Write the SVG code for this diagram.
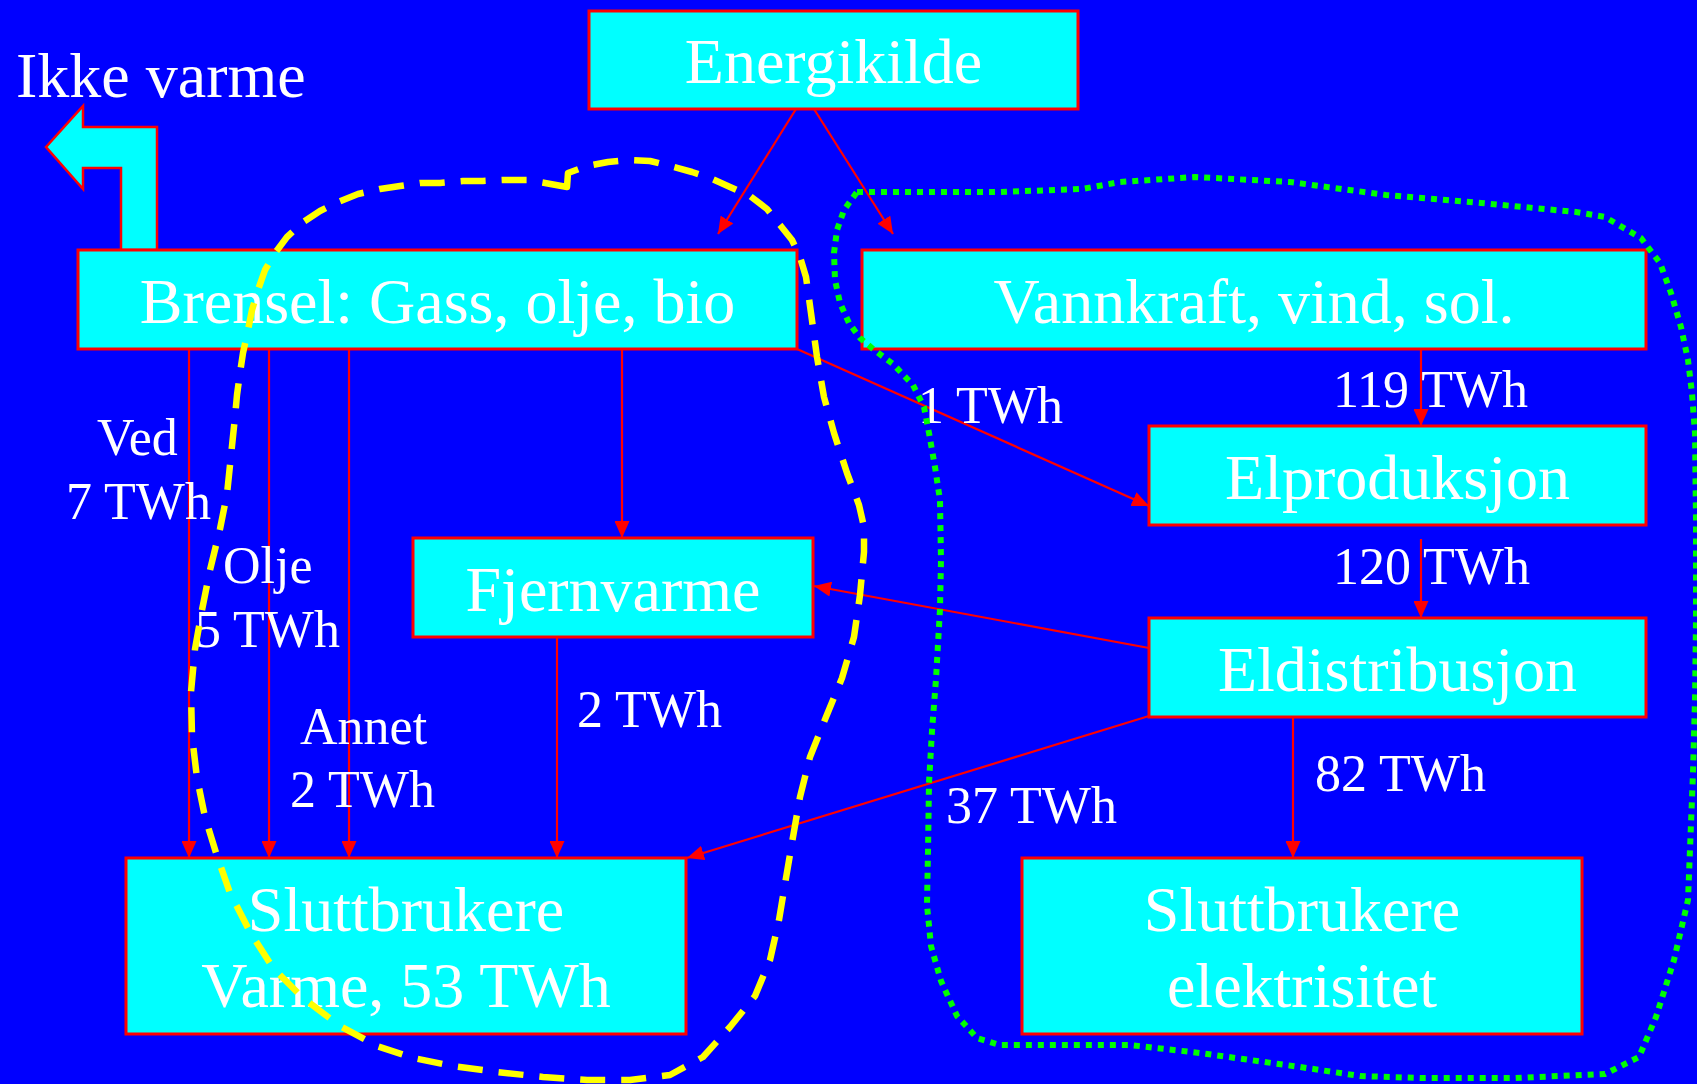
<svg xmlns="http://www.w3.org/2000/svg" width="1697" height="1084" viewBox="0 0 1697 1084">
<style>
.box{fill:#00ffff;stroke:#ff0000;stroke-width:3}
.nt{font-family:"Liberation Serif","Times New Roman",serif;font-size:64px;fill:#ffffff;text-anchor:middle}
.lb{font-family:"Liberation Serif","Times New Roman",serif;font-size:52px;fill:#ffffff}
.cn{stroke:#ff0000;stroke-width:2.2;fill:none;marker-end:url(#ah)}
.yl{fill:none;stroke:#ffff00;stroke-width:6.5;stroke-dasharray:25 16;stroke-linejoin:round}
.gr{fill:none;stroke:#00ff00;stroke-width:6;stroke-dasharray:6 6;stroke-linejoin:round}
</style>
<defs>
<marker id="ah" markerUnits="userSpaceOnUse" markerWidth="17" markerHeight="15" refX="17" refY="7.5" orient="auto">
<path d="M0,0 L17,7.5 L0,15 z" fill="#ff0000"/>
</marker>
</defs>
<rect x="0" y="0" width="1697" height="1084" fill="#0000ff"/>

<g id="ikke-varme">
<polygon points="46,147 83,106 83,127 157,127 157,250 121,250 121,168 83,168 83,189" fill="#00ffff" stroke="#ff0000" stroke-width="2.5"/>
<text class="lb" x="16" y="97" style="font-size:64px">Ikke varme</text>
</g>

<g id="energikilde"><rect class="box" x="589" y="11" width="489" height="98"/><text class="nt" x="833.5" y="83">Energikilde</text></g>
<g id="brensel"><rect class="box" x="78" y="250" width="719" height="99"/><text class="nt" x="437.5" y="323">Brensel: Gass, olje, bio</text></g>
<g id="vannkraft"><rect class="box" x="862" y="250" width="784" height="99"/><text class="nt" x="1254" y="323">Vannkraft, vind, sol.</text></g>
<g id="elproduksjon"><rect class="box" x="1149" y="426" width="497" height="99"/><text class="nt" x="1397.5" y="499">Elproduksjon</text></g>
<g id="eldistribusjon"><rect class="box" x="1149" y="618" width="497" height="99"/><text class="nt" x="1397.5" y="691">Eldistribusjon</text></g>
<g id="fjernvarme"><rect class="box" x="413" y="538" width="400" height="99"/><text class="nt" x="613" y="611">Fjernvarme</text></g>
<g id="slutt-varme"><rect class="box" x="126" y="858" width="560" height="176"/><text class="nt" x="406" y="931">Sluttbrukere</text><text class="nt" x="406" y="1007">Varme, 53 TWh</text></g>
<g id="slutt-el"><rect class="box" x="1022" y="858" width="560" height="176"/><text class="nt" x="1302" y="931">Sluttbrukere</text><text class="nt" x="1302" y="1007">elektrisitet</text></g>

<g id="connectors">
<line class="cn" x1="796" y1="109" x2="718" y2="234"/>
<line class="cn" x1="814" y1="109" x2="893" y2="234"/>
<line class="cn" x1="189" y1="349" x2="189" y2="858"/>
<line class="cn" x1="269" y1="349" x2="269" y2="858"/>
<line class="cn" x1="349" y1="349" x2="349" y2="858"/>
<line class="cn" x1="622" y1="349" x2="622" y2="538"/>
<line class="cn" x1="797" y1="349" x2="1149" y2="506"/>
<line class="cn" x1="1421" y1="349" x2="1421" y2="426"/>
<line class="cn" x1="1421" y1="539" x2="1421" y2="618"/>
<line class="cn" x1="1149" y1="648" x2="814" y2="586"/>
<line class="cn" x1="1149" y1="716" x2="687" y2="858"/>
<line class="cn" x1="1293" y1="717" x2="1293" y2="858"/>
<line class="cn" x1="557" y1="637" x2="557" y2="858"/>
</g>

<g id="labels">
<text class="lb" x="97" y="455">Ved</text>
<text class="lb" x="66" y="519">7 TWh</text>
<text class="lb" x="223" y="583">Olje</text>
<text class="lb" x="195" y="647">5 TWh</text>
<text class="lb" x="300" y="744">Annet</text>
<text class="lb" x="290" y="807">2 TWh</text>
<text class="lb" x="577" y="727">2 TWh</text>
<text class="lb" x="918" y="423">1 TWh</text>
<text class="lb" x="1333" y="407">119 TWh</text>
<text class="lb" x="1333" y="584">120 TWh</text>
<text class="lb" x="1315" y="791">82 TWh</text>
<text class="lb" x="946" y="823">37 TWh</text>
</g>

<g id="outlines">
<path class="yl" d="M567,187 L545,183 L527,180 L503,180 L483,181 L463,181 L440,183 L420,183 L400,186 L380,189 L358,194 L338,202 L320,211 L302,223 L287,237 L275,253 L265,270 L258,290 L252,310 L248,330 L243,353 L240,373 L237,395 L235,417 L232,446 L227,494 L220,529 L210,570 L202,610 L195,649 L191,692 L192,736 L197,778 L205,817 L217,856 L230,893 L250,932 L273,968 L303,998 L340,1026 L377,1046 L413,1058 L453,1066 L497,1072 L543,1077 L587,1080 L630,1080 L670,1075 L703,1057 L730,1027 L755,996 L770,960 L779,920 L786,878 L793,837 L800,797 L810,757 L826,717 L842,678 L854,637 L860,595 L864,552 L864,527 L859,505 L847,473 L834,433 L824,397 L817,357 L811,313 L806,277 L800,257 L792,240 L780,225 L767,209 L750,196 L730,187 L710,178 L692,172 L670,166 L650,161 L628,160 L608,162 L587,166 L568,173 Z"/>
<path class="gr" d="M857,192 L1000,192 L1082,189 L1120,182 L1195,177 L1290,182 L1386,195 L1481,203 L1576,212 L1605,217 L1641,238 L1660,263 L1671,293 L1681,327 L1688,360 L1692,393 L1695,433 L1696,520 L1696,620 L1695,700 L1693,773 L1688,900 L1674,960 L1656,1017 L1639,1057 L1605,1074 L1515,1078 L1420,1078 L1360,1076 L1300,1067 L1200,1053 L1130,1045 L1000,1045 L977,1038 L957,1016 L941,981 L931,946 L927,905 L928,852 L929,783 L932,731 L936,679 L940,609 L941,560 L940,500 L935,467 L929,433 L924,407 L913,385 L893,364 L873,349 L860,338 L849,323 L840,303 L835,280 L834,253 L837,230 L844,210 Z"/>
</g>
</svg>
